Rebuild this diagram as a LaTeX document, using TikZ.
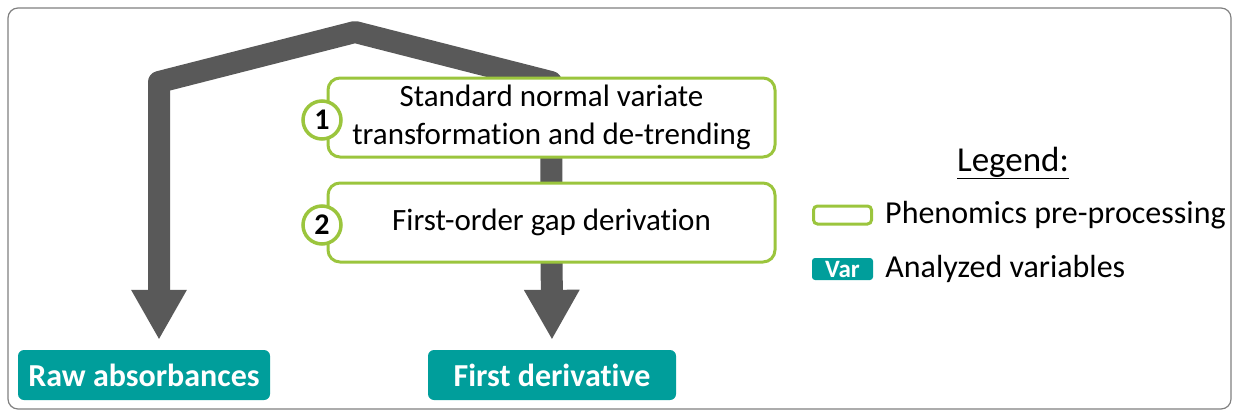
\documentclass[tikz,border=0pt]{standalone}
\usepackage{fontspec}
\setmainfont{Carlito}[Ligatures=NoCommon]
\usetikzlibrary{arrows.meta,positioning,backgrounds}
\definecolor{procgreen}{RGB}{155,197,61}
\definecolor{varteal}{RGB}{0,158,155}
\definecolor{bandgrey}{RGB}{89,89,89}
\tikzset{
  procbox/.style={draw=procgreen, line width=3pt, fill=white, rounded corners=12pt,
    minimum width=447pt, minimum height=79pt, align=center, font=\fontsize{31}{38}\selectfont},
  stepnum/.style={circle, draw=procgreen, line width=3.5pt, fill=white, minimum size=38pt,
    inner sep=0pt, font=\fontsize{30}{30}\selectfont\bfseries},
  varbox/.style={fill=varteal, rounded corners=6pt, text=white, minimum height=50pt,
    font=\fontsize{32}{34}\selectfont\bfseries},
  legtext/.style={font=\fontsize{32}{36}\selectfont, inner sep=2pt},
  band/.style={draw=bandgrey, line width=22pt, line join=round,
    {Triangle[width=52pt,length=50pt]}-{Triangle[width=52pt,length=50pt]},
    shorten >=10pt, shorten <=10pt},
}
\begin{document}
\begin{tikzpicture}[x=1pt,y=-1pt]
	\useasboundingbox (0,0) rectangle (1233,412);
	%% frame
	\draw[gray, line width=1.2pt, rounded corners=10pt] (8,8) rectangle (1231,409);

	%% variables
	\node[varbox, minimum width=252pt] (raw) at (144,375) {Raw absorbances};
	\node[varbox, minimum width=248pt] (deriv) at (552,375) {First derivative};

	%% pre-processing steps
	\node[procbox] (snv) at (551.5,117.5) {Standard normal variate\\transformation and de-trending};
	\node[procbox] (gap) at (551.5,222.5) {First-order gap derivation};
	\node[stepnum] (n1) at (322,120) {1};
	\node[stepnum] (n2) at (322,225) {2};

	%% arrows
	\coordinate (peak) at (355,32);
	\coordinate (lc) at (159,82);
	\coordinate (rc) at (551,82);
	\begin{scope}[on background layer]
		\draw[band] (lc |- raw.north) -- (lc) -- (peak) -- (rc) -- (deriv.north);
	\end{scope}

	%% legend
	\node[font=\fontsize{35}{38}\selectfont] (legtitle) at (1013,163) {\underline{Legend:}};
	\node[draw=procgreen, line width=3pt, rounded corners=4pt, minimum width=58pt, minimum height=18pt] (lgproc) at (842.5,215) {};
	\node[legtext, right=10pt of lgproc] (lgproctxt) {Phenomics pre-processing};
	\node[fill=varteal, rounded corners=3pt, text=white, minimum width=61pt, minimum height=22pt, inner sep=0pt,
		font=\fontsize{25}{26}\selectfont\bfseries] (lgvar) at (842.5,269) {Var};
	\node[legtext, right=10pt of lgvar] (lgvartxt) {Analyzed variables};
\end{tikzpicture}
\end{document}
